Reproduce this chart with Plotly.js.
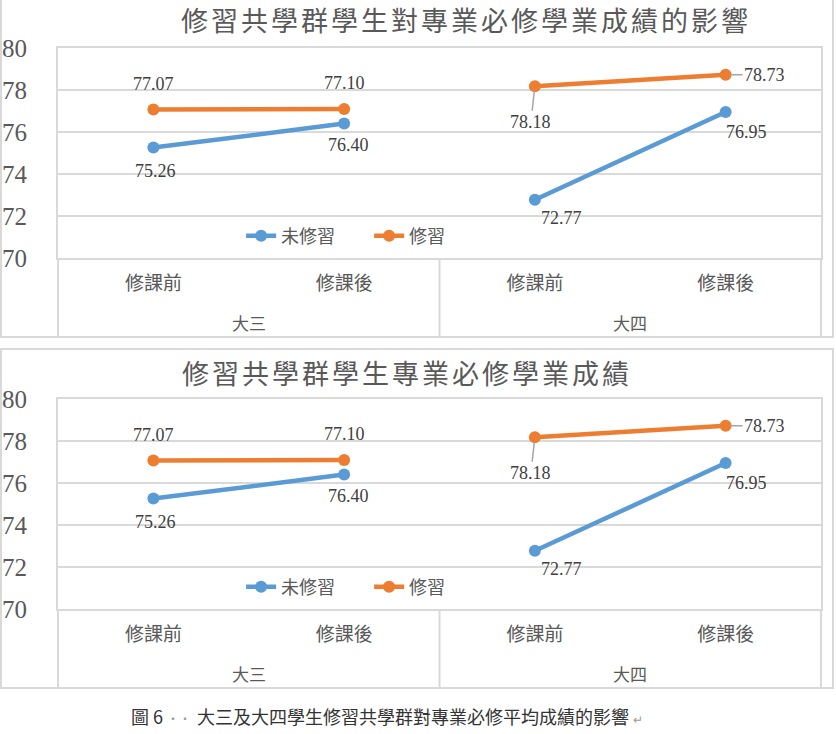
<!DOCTYPE html>
<html>
<head>
<meta charset="utf-8">
<script src="https://cdn.plot.ly/plotly-3.0.1.min.js"></script>
<style>
  body { margin: 0; background: #fff; width: 836px; height: 734px; position: relative; overflow: hidden; }
  .chart { position: absolute; left: 0; width: 836px; }
  .frame { position: absolute; left: 0; width: 834px; box-sizing: border-box; border: 2px solid #d9d9d9; pointer-events: none; }
  .gtitle { letter-spacing: 3px; }
  #caption { position: absolute; left: 131px; top: 703px; white-space: nowrap;
    font-family: "Noto Sans CJK TC", sans-serif; font-size: 18px; color: #333; }
  #caption .mark { color: #999; font-size: 12px; padding: 0 6px 0 4px; }
</style>
</head>
<body>
<div class="frame" style="top:-2px;height:340px"></div>
<div class="frame" style="top:348px;height:341px"></div>
<div id="chart1" class="chart" style="top:0;height:338px"></div>
<div id="chart2" class="chart" style="top:349px;height:340px"></div>
<div id="caption">圖 6<span class="mark">··</span>大三及大四學生修習共學群對專業必修平均成績的影響<span class="mark">↵</span></div>
<script>
// data
const years = ['大三', '大三', '大四', '大四'];
const stages = ['修課前', '修課後', '修課前', '修課後'];
const notTaken = [75.26, 76.40, 72.77, 76.95];
const taken = [77.07, 77.10, 78.18, 78.73];
const seriesNames = ['未修習', '修習'];
const yTicks = [70, 72, 74, 76, 78, 80];
const titles = ['修習共學群學生對專業必修學業成績的影響', '修習共學群學生專業必修學業成績'];

const colors = ['#5b9bd5', '#ed7d31'];
const cjk = '"Noto Sans CJK TC", "Noto Sans CJK JP", sans-serif';
const serif = '"Liberation Serif", "Times New Roman", serif';
const grey = '#d9d9d9';
const groups = [...new Set(years)];
const pos = stages.map((_, i) => i);

// label placement per point (pixel shifts), [dx, dy, leader]
const labelPos = [
    [[2, 23], [4, 21], [27, 18], [21, 20]],
    [[0, -26], [0, -26], [-4, 36, true], [39, 0, true]]
];

function buildTraces() {
    const traces = [];
    [notTaken, taken].forEach((vals, s) => {
        groups.forEach((g, k) => {
            const idx = pos.filter(i => years[i] === g);
            traces.push({
                x: idx,
                y: idx.map(i => vals[i]),
                name: seriesNames[s],
                legendgroup: seriesNames[s],
                showlegend: k === 0,
                mode: 'lines+markers',
                type: 'scatter',
                line: { color: colors[s], width: 4.5 },
                marker: { color: colors[s], size: 12 },
                hoverinfo: 'skip'
            });
        });
    });
    return traces;
}

function buildLabels() {
    const out = [];
    [notTaken, taken].forEach((vals, s) => {
        vals.forEach((v, i) => {
            const p = labelPos[s][i];
            const a = {
                x: pos[i], y: v,
                xref: 'x', yref: 'y',
                text: v.toFixed(2),
                font: { family: serif, size: 18, color: '#404040' }
            };
            if (p[2]) {
                Object.assign(a, {
                    showarrow: true, arrowhead: 0, arrowwidth: 1.5, arrowcolor: '#a6a6a6',
                    ax: p[0], ay: p[1], standoff: 5
                });
            } else {
                Object.assign(a, { showarrow: false, xshift: p[0], yshift: -p[1] });
            }
            out.push(a);
        });
    });
    // outer category row (year groups)
    groups.forEach(g => {
        const idx = pos.filter(i => years[i] === g);
        out.push({
            x: idx.reduce((a, b) => a + b, 0) / idx.length,
            y: 0, xref: 'x', yref: 'paper',
            xanchor: 'center', yanchor: 'middle',
            yshift: -64, showarrow: false,
            text: g,
            font: { family: cjk, size: 17, color: '#595959' }
        });
    });
    return out;
}

function drawChart(id, title, height, top, titleY, titleX) {
    const plotH = 210;
    const bottom = height - top - plotH;
    const ext = -(bottom - 1) / plotH;
    const vline = x => ({ type: 'line', xref: 'paper', yref: 'paper', x0: x, x1: x, y0: ext, y1: 0, line: { color: grey, width: 2 } });
    const layout = {
        width: 836,
        height: height,
        margin: { l: 58, r: 15, t: top, b: bottom },
        paper_bgcolor: 'rgba(0,0,0,0)',
        plot_bgcolor: '#fff',
        title: {
            text: title,
            font: { family: cjk, size: 27, color: '#595959' },
            x: titleX / 836, xanchor: 'center',
            y: 1 - titleY / height, yanchor: 'middle'
        },
        xaxis: {
            range: [-0.5, stages.length - 0.5],
            tickvals: pos,
            ticktext: stages,
            showline: true, linecolor: grey, linewidth: 2, mirror: true,
            showgrid: false, zeroline: false,
            ticklabelstandoff: 7,
            tickfont: { family: cjk, size: 19, color: '#595959' },
            ticks: ''
        },
        yaxis: {
            range: [70, 80],
            tickvals: yTicks,
            showline: true, linecolor: grey, linewidth: 2, mirror: true,
            gridcolor: grey, gridwidth: 2,
            zeroline: false,
            ticklabelstandoff: 24,
            tickfont: { family: serif, size: 25, color: '#595959' }
        },
        showlegend: true,
        legend: {
            orientation: 'h',
            x: 0.24, xanchor: 'left',
            y: 0.105, yanchor: 'middle',
            bgcolor: 'rgba(0,0,0,0)',
            font: { family: cjk, size: 18, color: '#595959' },
            entrywidth: 83
        },
        annotations: buildLabels(),
        shapes: [vline(0), vline(1), vline(0.5)]
    };
    Plotly.newPlot(id, buildTraces(), layout, { staticPlot: true });
}

drawChart('chart1', titles[0], 338, 48, 22, 466);
drawChart('chart2', titles[1], 340, 50, 26, 407);
</script>
</body>
</html>
